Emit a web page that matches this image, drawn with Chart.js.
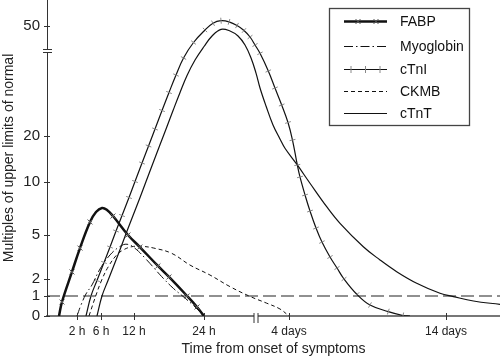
<!DOCTYPE html>
<html>
<head>
<meta charset="utf-8">
<script src="https://cdn.jsdelivr.net/npm/chart.js"></script>
<style>
  html, body { margin: 0; padding: 0; background: #fff; }
  #wrap { width: 500px; height: 358px; position: relative; }
</style>
</head>
<body>
<div id="wrap"><canvas id="markerChart"></canvas></div>
<script>
// time in hours from onset, values in multiples of the upper limit of normal
const fabpHours  = [0, 0.33, 1.44, 2.5, 4.17, 5.17, 6.18, 7.09, 8.18, 10.9, 13.0, 16.1, 18.0, 21.1, 22.8, 24];
const fabpValues = [0, 0.7, 2.48, 4.11, 6.23, 7.17, 7.55, 7.36, 6.79, 5.0, 4.18, 2.89, 2.14, 1.0, 0.45, 0];

const myoHours  = [2, 2.67, 3.5, 4.5, 5.83, 7.64, 9.45, 10.73, 12.17, 14.18, 16.75, 18.74, 20.4, 22.29, 24];
const myoValues = [0, 0.55, 1.12, 1.65, 2.68, 3.64, 4.22, 4.37, 4.09, 3.3, 2.16, 1.45, 0.98, 0.5, 0];

const ctniHours  = [3.5, 4.33, 5.33, 6.55, 7.64, 8.73, 9.82, 11.09, 12.17, 13.37, 14.49, 15.6, 16.8, 18.0, 19.2, 20.49, 22.2, 24.23, 26.08, 27.92, 29.77, 31.62, 33.23, 34.62, 35.77, 43.27, 58.36, 70.5, 82.7, 94.2, 101.35, 108.7, 112.8, 120.5, 128.1, 137.3, 146.4, 158.7, 169.4, 180.1, 200, 219.8, 247.8, 270.3, 281];
const ctniValues = [0, 1, 1.91, 3.13, 4.18, 5.38, 6.84, 8.54, 10.11, 14.13, 17.83, 21.65, 26.0, 30.24, 34.35, 38.35, 43.4, 48.4, 51.08, 52.04, 51.6, 50.19, 48.2, 45.6, 42.4, 39.46, 35.3, 31.29, 27.3, 23.18, 19.13, 13.7, 11.09, 8.77, 7.26, 5.66, 4.52, 3.5, 2.75, 2.0, 1.09, 0.55, 0.22, 0.025, 0];

const ckmbHours  = [4, 5.12, 6.13, 7.33, 8.85, 10.05, 11.58, 13.32, 15.6, 18.46, 21.6, 25.38, 30, 34.6, 55.5, 79.6, 96];
const ckmbValues = [0, 1, 1.94, 2.84, 3.64, 3.98, 4.2, 4.23, 4.09, 3.75, 2.95, 2.27, 1.55, 0.98, 0.64, 0.35, 0];

const ctntHours  = [5.33, 6.18, 7.27, 8.55, 9.64, 10.73, 11.82, 13.03, 14.06, 15.26, 16.37, 17.49, 18.69, 19.89, 21.09, 22.46, 24, 25.85, 27.92, 30, 31.85, 33.46, 34.85, 36, 43.27, 54.2, 66.9, 79.6, 88.7, 108.7, 128.1, 153.6, 174, 209.6, 235.1, 260.6, 291.2, 326.8, 347.2, 377.7, 418];
const ctntValues = [0, 1, 1.91, 3.13, 4.18, 5.38, 6.84, 8.54, 10.11, 14.13, 17.83, 21.65, 26.0, 30.24, 34.24, 37.88, 41.8, 46.0, 48.68, 48.0, 46.0, 42.4, 38.35, 34.8, 31.3, 27.06, 22.6, 19.35, 17.33, 13.7, 9.88, 7.67, 6.1, 4.2, 3.3, 2.5, 1.75, 1.16, 0.97, 0.75, 0.58];

const normalLimit = 1;
const xRange = [-1, 418];
const yRange = [0, 60];
const xTickHours  = [2, 6, 12, 24, 96, 336];
const xTickLabels = ['2 h', '6 h', '12 h', '24 h', '4 days', '14 days'];
const yTickValues = [0, 1, 2, 5, 10, 20, 50];
const xBreakAt = 36;   // hours, where the time axis is broken
const yBreakAt = 40;   // multiples, where the value axis is broken

Chart.defaults.font.family = '"Liberation Sans", Arial, Helvetica, sans-serif';
Chart.defaults.color = '#222';

// schematic axis: piecewise linear between knots [value, fraction of axis]
class BrokenScale extends Chart.LinearScale {
  static id = 'broken';
  toDecimal(v) {
    const k = this.options.knots;
    if (v <= k[0][0]) return k[0][1];
    for (let i = 1; i < k.length; i++) {
      if (v <= k[i][0]) {
        const [v0, d0] = k[i - 1], [v1, d1] = k[i];
        return d0 + (v - v0) / (v1 - v0) * (d1 - d0);
      }
    }
    return k[k.length - 1][1];
  }
  getPixelForValue(v) {
    return this.getPixelForDecimal(this.toDecimal(v));
  }
  getValueForPixel(p) {
    let d = (p - this._startPixel) / this._length;
    if (this._reversePixels) d = 1 - d;
    const k = this.options.knots;
    for (let i = 1; i < k.length; i++) {
      if (d <= k[i][1]) {
        const [v0, d0] = k[i - 1], [v1, d1] = k[i];
        return v0 + (d - d0) / (d1 - d0) * (v1 - v0);
      }
    }
    return k[k.length - 1][0];
  }
  buildTicks() {
    return this.options.tickValues.map(v => ({ value: v }));
  }
}
Chart.register(BrokenScale);

const toPoints = (hours, vals) => hours.map((h, i) => ({ x: h, y: vals[i] }));

// perpendicular tick marks along the cTnI curve
function tickAngle(ctx) {
  if (ctx.dataIndex === undefined) return 0;
  const d = ctx.dataset.data, i = ctx.dataIndex;
  const sx = ctx.chart.scales.x, sy = ctx.chart.scales.y;
  const a = d[Math.max(i - 1, 0)], b = d[Math.min(i + 1, d.length - 1)];
  const dx = sx.getPixelForValue(b.x) - sx.getPixelForValue(a.x);
  const dy = sy.getPixelForValue(b.y) - sy.getPixelForValue(a.y);
  return Math.atan2(dy, dx) * 180 / Math.PI + 90;
}

const FABP_PLAIN = [0, 5, 6, 7, fabpHours.length - 1];

function line(ctx, x1, y1, x2, y2) {
  ctx.beginPath(); ctx.moveTo(x1, y1); ctx.lineTo(x2, y2); ctx.stroke();
}

const axisDecor = {
  id: 'axisDecor',
  afterDraw(chart) {
    const { ctx, scales: { x, y } } = chart;
    const ax = x.left, ay = y.bottom;
    ctx.save();
    ctx.strokeStyle = '#333';
    ctx.lineWidth = 1;
    yTickValues.forEach(v => {
      const py = Math.round(y.getPixelForValue(v)) + 0.5;
      line(ctx, ax - 3, py, ax + 3, py);
    });
    xTickHours.forEach(h => {
      const px = Math.round(x.getPixelForValue(h)) + 0.5;
      line(ctx, px, ay - 3, px, ay + 4);
    });
    // break on the value axis
    const by = y.getPixelForValue(yBreakAt);
    ctx.fillStyle = '#fff';
    ctx.fillRect(ax - 3, by - 1.5, 7, 3);
    line(ctx, ax - 4, by - 1.5, ax + 5, by - 1.5);
    line(ctx, ax - 4, by + 1.5, ax + 5, by + 1.5);
    // break on the time axis
    const bx = x.getPixelForValue(xBreakAt);
    ctx.fillRect(bx - 2, ay - 3, 4, 6);
    line(ctx, bx - 2, ay - 3, bx - 2, ay + 7);
    line(ctx, bx + 2, ay - 3, bx + 2, ay + 7);
    ctx.restore();
  }
};

const boxLegend = {
  id: 'boxLegend',
  afterDraw(chart) {
    const ctx = chart.ctx;
    const rows = [21, 46, 69, 91, 113];
    ctx.save();
    ctx.fillStyle = '#fff';
    ctx.fillRect(330, 9, 139, 116);
    ctx.strokeStyle = '#444';
    ctx.lineWidth = 1.3;
    ctx.strokeRect(329.5, 8.5, 140, 117);
    chart.data.datasets.filter(d => d.label).forEach((ds, i) => {
      const ly = rows[i] + 0.5;
      ctx.strokeStyle = ds.borderColor;
      ctx.lineWidth = ds.borderWidth;
      ctx.setLineDash(ds.borderDash || []);
      line(ctx, 344, ly, 387, ly);
      ctx.setLineDash([]);
      ctx.lineWidth = 1;
      ctx.strokeStyle = ds.pointBorderColor || ds.borderColor;
      if (ds.pointStyle === 'crossRot') {
        [358, 376].forEach(cx => {
          line(ctx, cx - 2.5, ly - 2.5, cx + 2.5, ly + 2.5);
          line(ctx, cx - 2.5, ly + 2.5, cx + 2.5, ly - 2.5);
        });
      } else if (ds.pointStyle === 'line') {
        [351, 365.5, 380].forEach(cx => line(ctx, cx, ly - 3.5, cx, ly + 3.5));
      }
      ctx.fillStyle = '#111';
      ctx.font = '14px "Liberation Sans", Arial, sans-serif';
      ctx.textBaseline = 'middle';
      ctx.fillText(ds.label, 400, rows[i] + 1);
    });
    ctx.restore();
  }
};

new Chart(document.getElementById('markerChart'), {
  type: 'line',
  data: {
    datasets: [
      {
        label: 'FABP',
        data: toPoints(fabpHours, fabpValues),
        borderColor: '#111', borderWidth: 2.5,
        pointStyle: 'crossRot',
        pointRadius: ctx => FABP_PLAIN.includes(ctx.dataIndex) ? 0 : 3.5,
        pointBorderColor: '#555', pointBorderWidth: 1
      },
      {
        label: 'Myoglobin',
        data: toPoints(myoHours, myoValues),
        borderColor: '#111', borderWidth: 1,
        borderDash: [9, 3, 1.5, 3],
        pointRadius: 0
      },
      {
        label: 'cTnI',
        data: toPoints(ctniHours, ctniValues),
        borderColor: '#111', borderWidth: 1.2,
        pointStyle: 'line',
        pointRadius: ctx => (ctx.dataIndex === 0 || ctx.dataIndex === ctniHours.length - 1) ? 0 : 3,
        pointRotation: tickAngle,
        pointBorderColor: '#888', pointBorderWidth: 1
      },
      {
        label: 'CKMB',
        data: toPoints(ckmbHours, ckmbValues),
        borderColor: '#111', borderWidth: 1,
        borderDash: [4, 3],
        pointRadius: 0
      },
      {
        label: 'cTnT',
        data: toPoints(ctntHours, ctntValues),
        borderColor: '#111', borderWidth: 1.2,
        pointRadius: 0
      },
      {
        label: '',
        data: [{ x: xRange[0], y: normalLimit }, { x: xRange[1], y: normalLimit }],
        borderColor: '#222', borderWidth: 1.2,
        borderDash: [13, 5],
        pointRadius: 0,
        tension: 0
      }
    ]
  },
  options: {
    responsive: true,
    maintainAspectRatio: false,
    animation: false,
    events: [],
    layout: { padding: 0 },
    elements: { line: { tension: 0.4 } },
    plugins: { legend: { display: false }, tooltip: { enabled: false } },
    scales: {
      x: {
        type: 'broken',
        min: xRange[0], max: xRange[1],
        knots: [[-1, 0], [0, 0.0265], [2, 0.0662], [6, 0.1192], [12, 0.1921], [24, 0.3466],
                [36, 0.4614], [96, 0.5342], [336, 0.8808], [418, 1]],
        tickValues: xTickHours,
        grid: { display: false, drawTicks: false },
        border: { display: true, color: '#777', width: 2 },
        ticks: {
          autoSkip: false, maxRotation: 0, padding: 8,
          font: { size: 12 }, color: '#222',
          callback: (v, i) => xTickLabels[i]
        },
        title: {
          display: true, text: 'Time from onset of symptoms',
          font: { size: 14 }, color: '#222', padding: 0
        },
        afterFit(s) {
          s.height = 42;
          s.paddingLeft = s.paddingRight = s.paddingTop = s.paddingBottom = 0;
        }
      },
      y: {
        type: 'broken',
        min: yRange[0], max: yRange[1],
        knots: [[0, 0], [1, 0.0633], [2, 0.1171], [5, 0.2563], [10, 0.4241], [20, 0.5696],
                [40, 0.8386], [50, 0.9177], [60, 1]],
        tickValues: yTickValues,
        grid: { display: false, drawTicks: false },
        border: { display: true, color: '#333', width: 1 },
        ticks: {
          autoSkip: false, padding: 7,
          font: { size: 15 }, color: '#222',
          callback: v => String(v)
        },
        title: {
          display: true, text: 'Multiples of upper limits of normal',
          font: { size: 14 }, color: '#222', padding: { top: 1 }
        },
        afterFit(s) {
          s.width = 47;
          s.paddingLeft = s.paddingRight = s.paddingTop = s.paddingBottom = 0;
        }
      }
    }
  },
  plugins: [axisDecor, boxLegend]
});
</script>
</body>
</html>
